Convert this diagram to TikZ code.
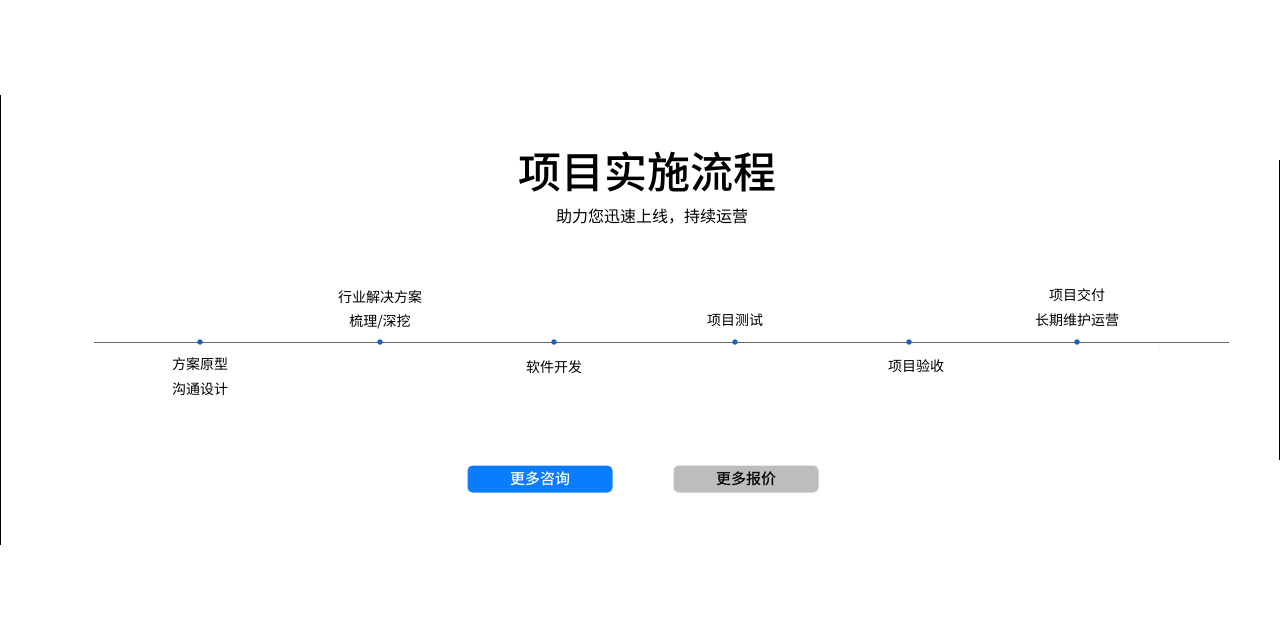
\documentclass[tikz,border=0pt]{standalone}
\usepackage{fontspec}
\setmainfont{Noto Sans CJK SC}
\newfontfamily\cjkb{Noto Sans CJK SC Medium}
\definecolor{btnblue}{HTML}{0A7CFF}
\definecolor{btngray}{HTML}{BDBDBD}
\definecolor{dotblue}{HTML}{1565C0}
\begin{document}
\begin{tikzpicture}[x=1pt,y=-1pt,
  lbl/.style={font=\fontsize{14}{14}\selectfont,inner sep=0pt,anchor=center},
  dotn/.style={circle,fill=dotblue,minimum size=5.5pt,inner sep=0pt},
  btn/.style={rounded corners=5pt,minimum width=145pt,minimum height=27pt,inner sep=0pt,font=\fontsize{15}{15}\selectfont}]
\useasboundingbox (0,0) rectangle (1280,639);
\fill[white] (0,0) rectangle (1280,639);
\draw[line width=1.2pt] (0.6,95) -- (0.6,545);
\draw[line width=1.2pt] (1279.4,160) -- (1279.4,460);
\node[inner sep=0pt,font=\fontsize{43}{43}\selectfont] (title) at (647,172) {\cjkb 项目实施流程};
\node[inner sep=0pt,font=\fontsize{16}{16}\selectfont] (sub) at (652,217) {助力您迅速上线，持续运营};
\coordinate (L) at (94,342); \coordinate (R) at (1229,342);
\draw[line width=1pt,gray!80!black] (L) -- (R);
\foreach \n/\x in {a/200,b/380,c/554,d/735,e/909,f/1077}{\node[dotn] (\n) at (\x,342) {};}
\node[lbl] (a1) at (200,364) {方案原型};
\node[lbl] (a2) at (200,389) {沟通设计};
\node[lbl] (b1) at (380,297) {行业解决方案};
\node[lbl] (b2) at (380,322) {梳理/深挖};
\node[lbl] (c1) at (554,367) {软件开发};
\node[lbl] (d1) at (735,320) {项目测试};
\node[lbl] (e1) at (916,366) {项目验收};
\node[lbl] (f1) at (1077,295) {项目交付};
\node[lbl] (f2) at (1077,320) {长期维护运营};
\fill[gray!60] (1159,349) circle (0.5pt);
\node[btn,fill=btnblue,text=white] (b1x) at (540,479) {\cjkb 更多咨询};
\node[btn,fill=btngray,text=black] (b2x) at (746,479) {\cjkb 更多报价};
\end{tikzpicture}
\end{document}
